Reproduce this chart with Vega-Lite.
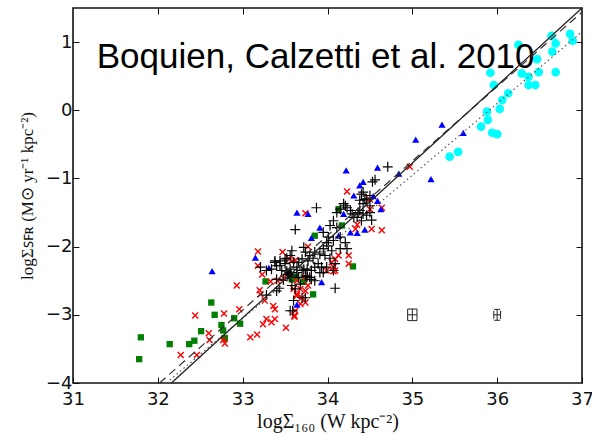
{
  "$schema": "https://vega.github.io/schema/vega-lite/v6.json",
  "width": 509,
  "height": 375,
  "autosize": {"type": "none"},
  "padding": {"left": 73, "top": 8, "right": 10, "bottom": 52},
  "background": "white",
  "config": {
    "view": {"stroke": "#111", "strokeWidth": 1.6},
    "axis": {
      "domain": false,
      "grid": false,
      "tickColor": "#111",
      "tickSize": -6,
      "tickWidth": 1,
      "labelFont": "DejaVu Sans",
      "labelFontSize": 18,
      "labelColor": "#111",
      "labelFlush": false,
      "titleFont": "Liberation Serif",
      "titleFontSize": 20,
      "titleFontWeight": "normal",
      "titleColor": "#111"
    }
  },
  "datasets": {
    "cyan": [
      {"x": 36.25, "y": 0.96}, {"x": 36.47, "y": 0.75}, {"x": 36.64, "y": 1.09}, {"x": 36.69, "y": 0.98},
      {"x": 36.65, "y": 0.86}, {"x": 36.86, "y": 1.12}, {"x": 36.89, "y": 1.02}, {"x": 36.69, "y": 0.56},
      {"x": 36.49, "y": 0.56}, {"x": 36.37, "y": 0.49}, {"x": 36.29, "y": 0.54}, {"x": 35.92, "y": 0.55},
      {"x": 35.96, "y": 0.37}, {"x": 36.37, "y": 0.37}, {"x": 36.45, "y": 0.37}, {"x": 36.13, "y": 0.25},
      {"x": 36.06, "y": 0.15}, {"x": 36.03, "y": 0.02}, {"x": 35.88, "y": -0.02}, {"x": 35.89, "y": -0.14},
      {"x": 35.81, "y": -0.24}, {"x": 35.94, "y": -0.33}, {"x": 36.0, "y": -0.35}, {"x": 35.54, "y": -0.61},
      {"x": 35.44, "y": -0.68}
    ],
    "blue": [
      {"x": 35.35, "y": -0.21}, {"x": 35.6, "y": -0.33}, {"x": 35.04, "y": -0.43}, {"x": 35.22, "y": -1.01},
      {"x": 34.59, "y": -0.84}, {"x": 34.22, "y": -0.88}, {"x": 34.84, "y": -0.93}, {"x": 34.42, "y": -1.05},
      {"x": 34.38, "y": -1.1}, {"x": 34.31, "y": -1.25}, {"x": 34.54, "y": -1.26}, {"x": 34.59, "y": -1.33},
      {"x": 34.63, "y": -1.45}, {"x": 33.64, "y": -1.5}, {"x": 33.77, "y": -1.52}, {"x": 34.19, "y": -1.52},
      {"x": 33.91, "y": -1.72}, {"x": 34.13, "y": -1.84}, {"x": 34.27, "y": -1.79}, {"x": 34.35, "y": -1.8},
      {"x": 34.44, "y": -1.75}, {"x": 33.81, "y": -1.87}, {"x": 33.93, "y": -2.52}, {"x": 33.64, "y": -2.85},
      {"x": 33.15, "y": -2.16}, {"x": 33.31, "y": -2.31}, {"x": 32.64, "y": -2.36}
    ],
    "green": [
      {"x": 31.8, "y": -3.33}, {"x": 31.78, "y": -3.65}, {"x": 32.14, "y": -3.43}, {"x": 32.37, "y": -3.43},
      {"x": 32.43, "y": -3.38}, {"x": 32.51, "y": -3.24}, {"x": 32.63, "y": -2.82}, {"x": 32.67, "y": -3.0},
      {"x": 32.75, "y": -3.15}, {"x": 32.77, "y": -3.23}, {"x": 32.79, "y": -3.34}, {"x": 32.9, "y": -3.05},
      {"x": 32.97, "y": -3.13}, {"x": 33.27, "y": -2.51}, {"x": 33.58, "y": -2.48}, {"x": 33.62, "y": -2.44},
      {"x": 34.13, "y": -1.45}, {"x": 34.17, "y": -1.69}, {"x": 33.85, "y": -1.84}, {"x": 34.3, "y": -2.29},
      {"x": 33.59, "y": -2.46}, {"x": 33.72, "y": -2.51}, {"x": 33.83, "y": -2.7}
    ],
    "red": [
      {"x": 32.44, "y": -3.01}, {"x": 32.6, "y": -3.27}, {"x": 32.61, "y": -3.37}, {"x": 32.27, "y": -3.59},
      {"x": 32.46, "y": -3.59}, {"x": 32.78, "y": -2.98}, {"x": 32.93, "y": -2.57}, {"x": 32.96, "y": -2.92},
      {"x": 32.77, "y": -3.37}, {"x": 32.79, "y": -3.42}, {"x": 33.09, "y": -3.33}, {"x": 33.17, "y": -3.29},
      {"x": 33.18, "y": -2.07}, {"x": 33.18, "y": -2.28}, {"x": 33.23, "y": -2.41}, {"x": 33.2, "y": -2.64},
      {"x": 33.21, "y": -2.7}, {"x": 33.26, "y": -2.79}, {"x": 33.28, "y": -3.06}, {"x": 33.24, "y": -3.14},
      {"x": 33.34, "y": -3.11}, {"x": 33.38, "y": -3.06}, {"x": 33.36, "y": -2.87}, {"x": 33.38, "y": -2.92},
      {"x": 33.33, "y": -2.51}, {"x": 33.51, "y": -3.19}, {"x": 33.61, "y": -3.01}, {"x": 33.62, "y": -2.94},
      {"x": 33.6, "y": -2.62}, {"x": 33.64, "y": -2.7}, {"x": 33.55, "y": -2.18}, {"x": 33.47, "y": -2.08},
      {"x": 33.41, "y": -2.5}, {"x": 33.74, "y": -1.51}, {"x": 34.5, "y": -1.45}, {"x": 34.64, "y": -1.43},
      {"x": 34.52, "y": -1.74}, {"x": 34.64, "y": -1.76}, {"x": 34.35, "y": -1.68}, {"x": 34.33, "y": -1.74},
      {"x": 34.13, "y": -2.13}, {"x": 34.09, "y": -2.18}, {"x": 34.05, "y": -2.23}, {"x": 34.07, "y": -2.3},
      {"x": 34.09, "y": -2.35}, {"x": 34.25, "y": -2.13}, {"x": 34.25, "y": -2.25}, {"x": 33.64, "y": -2.5},
      {"x": 33.77, "y": -2.57}, {"x": 33.68, "y": -2.62}, {"x": 33.74, "y": -2.65}, {"x": 33.64, "y": -2.72},
      {"x": 33.7, "y": -2.75}, {"x": 33.74, "y": -2.82}, {"x": 33.68, "y": -2.84}, {"x": 33.61, "y": -3.03},
      {"x": 33.58, "y": -2.21}, {"x": 34.23, "y": -1.19}, {"x": 34.5, "y": -1.31}, {"x": 34.97, "y": -0.83},
      {"x": 33.77, "y": -2.0}, {"x": 33.62, "y": -2.2}, {"x": 34.07, "y": -2.36}, {"x": 33.99, "y": -2.35},
      {"x": 33.74, "y": -2.45}, {"x": 33.48, "y": -2.46}
    ],
    "black": [
      {"x": 34.71, "y": -0.83}, {"x": 34.53, "y": -1.05}, {"x": 33.87, "y": -1.43}, {"x": 34.4, "y": -1.23},
      {"x": 34.44, "y": -1.31}, {"x": 34.5, "y": -1.25}, {"x": 34.11, "y": -1.5}, {"x": 34.15, "y": -1.45},
      {"x": 34.21, "y": -1.4}, {"x": 34.38, "y": -1.47}, {"x": 34.42, "y": -1.52}, {"x": 34.56, "y": -1.02},
      {"x": 33.62, "y": -1.75}, {"x": 34.19, "y": -1.37}, {"x": 34.23, "y": -1.43}, {"x": 34.27, "y": -1.47},
      {"x": 34.38, "y": -1.32}, {"x": 34.42, "y": -1.2}, {"x": 34.46, "y": -1.3}, {"x": 34.5, "y": -1.4},
      {"x": 34.42, "y": -1.37}, {"x": 34.36, "y": -1.5}, {"x": 34.29, "y": -1.52}, {"x": 34.31, "y": -1.57},
      {"x": 34.5, "y": -1.5}, {"x": 34.46, "y": -1.54}, {"x": 34.52, "y": -1.61}, {"x": 34.4, "y": -1.62},
      {"x": 34.35, "y": -1.57}, {"x": 34.07, "y": -1.62}, {"x": 34.03, "y": -1.69}, {"x": 34.11, "y": -1.72},
      {"x": 33.95, "y": -1.79}, {"x": 34.01, "y": -1.86}, {"x": 34.07, "y": -1.91}, {"x": 34.15, "y": -1.86},
      {"x": 34.21, "y": -1.94}, {"x": 34.23, "y": -2.03}, {"x": 34.15, "y": -2.03}, {"x": 33.99, "y": -1.94},
      {"x": 34.01, "y": -1.99}, {"x": 34.05, "y": -2.06}, {"x": 33.95, "y": -2.03}, {"x": 33.91, "y": -2.11},
      {"x": 33.97, "y": -2.13}, {"x": 34.03, "y": -2.17}, {"x": 33.72, "y": -2.01}, {"x": 33.74, "y": -2.08},
      {"x": 33.79, "y": -2.13}, {"x": 33.85, "y": -2.08}, {"x": 33.83, "y": -2.17}, {"x": 33.77, "y": -2.21},
      {"x": 33.7, "y": -2.18}, {"x": 33.66, "y": -2.23}, {"x": 33.58, "y": -2.06}, {"x": 33.56, "y": -2.13},
      {"x": 33.52, "y": -2.17}, {"x": 33.6, "y": -2.23}, {"x": 33.5, "y": -2.25}, {"x": 33.44, "y": -2.21},
      {"x": 33.4, "y": -2.28}, {"x": 33.38, "y": -2.21}, {"x": 33.89, "y": -2.25}, {"x": 33.93, "y": -2.3},
      {"x": 33.85, "y": -2.3}, {"x": 33.91, "y": -2.38}, {"x": 33.81, "y": -2.35}, {"x": 33.76, "y": -2.33},
      {"x": 33.7, "y": -2.35}, {"x": 33.64, "y": -2.3}, {"x": 33.56, "y": -2.33}, {"x": 33.54, "y": -2.4},
      {"x": 33.46, "y": -2.35}, {"x": 33.34, "y": -2.33}, {"x": 33.21, "y": -2.3}, {"x": 33.28, "y": -2.35},
      {"x": 33.76, "y": -2.44}, {"x": 33.81, "y": -2.48}, {"x": 33.66, "y": -2.45}, {"x": 33.56, "y": -2.45},
      {"x": 33.48, "y": -2.49}, {"x": 33.4, "y": -2.48}, {"x": 34.09, "y": -2.61}, {"x": 33.99, "y": -2.3},
      {"x": 34.07, "y": -2.35}, {"x": 33.95, "y": -2.38}, {"x": 34.09, "y": -2.25}, {"x": 33.72, "y": -2.33},
      {"x": 33.64, "y": -2.38}, {"x": 33.58, "y": -2.57}, {"x": 33.62, "y": -2.62}, {"x": 33.68, "y": -2.55},
      {"x": 33.74, "y": -2.43}, {"x": 33.79, "y": -2.45}, {"x": 33.85, "y": -2.5}, {"x": 33.6, "y": -2.79},
      {"x": 33.7, "y": -2.75}, {"x": 33.74, "y": -2.75}, {"x": 33.56, "y": -2.94}, {"x": 33.38, "y": -2.23},
      {"x": 33.44, "y": -2.28}, {"x": 33.5, "y": -2.18}, {"x": 33.28, "y": -2.71}, {"x": 33.43, "y": -2.61},
      {"x": 33.4, "y": -2.65}, {"x": 33.59, "y": -2.94}, {"x": 33.53, "y": -2.41}, {"x": 33.55, "y": -2.38},
      {"x": 33.52, "y": -2.36}, {"x": 33.57, "y": -2.42}
    ],
    "errbars": [
      {"x": 34.945, "x2": 35.055, "y": -3.0, "y2": -3.0},
      {"x": 35.0, "x2": 35.0, "y": -3.085, "y2": -2.915},
      {"x": 34.945, "x2": 34.945, "y": -3.085, "y2": -2.915},
      {"x": 35.055, "x2": 35.055, "y": -3.085, "y2": -2.915},
      {"x": 34.945, "x2": 35.055, "y": -3.085, "y2": -3.085},
      {"x": 34.945, "x2": 35.055, "y": -2.915, "y2": -2.915},
      {"x": 35.96, "x2": 36.04, "y": -3.0, "y2": -3.0},
      {"x": 36.0, "x2": 36.0, "y": -3.08, "y2": -2.92},
      {"x": 35.96, "x2": 35.96, "y": -3.06, "y2": -2.94},
      {"x": 36.04, "x2": 36.04, "y": -3.06, "y2": -2.94},
      {"x": 35.965, "x2": 36.035, "y": -3.08, "y2": -3.08},
      {"x": 35.965, "x2": 36.035, "y": -2.92, "y2": -2.92}
    ],
    "fits": [
      {"fit": "solid", "x": 32.16, "y": -4.0}, {"fit": "solid", "x": 37.0, "y": 1.5},
      {"fit": "dashed", "x": 32.02, "y": -4.0}, {"fit": "dashed", "x": 37.0, "y": 1.44},
      {"fit": "dotted", "x": 32.1, "y": -4.0}, {"fit": "dotted", "x": 37.0, "y": 1.15}
    ],
    "label": [
      {"text": "Boquien, Calzetti et al. 2010", "x": 31.28, "y": 0.62}
    ]
  },
  "layer": [
    {
      "encoding": {
        "x": {
          "field": "x", "type": "quantitative",
          "scale": {"domain": [31, 37], "nice": false, "zero": false},
          "axis": {"orient": "bottom", "values": [31, 32, 33, 34, 35, 36, 37], "format": "d", "labelPadding": 13, "titlePadding": 3},
          "title": "logΣ₁₆₀ (W  kpc⁻²)"
        },
        "y": {
          "field": "y", "type": "quantitative",
          "scale": {"domain": [-4, 1.5], "nice": false, "zero": false},
          "axis": {"orient": "left", "values": [-4, -3, -2, -1, 0, 1], "format": "d", "labelPadding": 7, "titlePadding": 9, "titleFontSize": 17},
          "title": "logΣꜱꜰʀ (M⊙ yr⁻¹ kpc⁻²)"
        }
      },
      "layer": [
        {
          "data": {"name": "cyan"},
          "mark": {"type": "point", "shape": "circle", "filled": true, "color": "#00ffff", "opacity": 1, "size": 75}
        },
        {
          "data": {"name": "green"},
          "mark": {"type": "point", "shape": "square", "filled": true, "color": "#007f00", "opacity": 1, "size": 40}
        },
        {
          "data": {"name": "red"},
          "mark": {"type": "point", "shape": "M-1,-1L1,1M-1,1L1,-1", "filled": false, "color": "#ff0000", "opacity": 1, "size": 36, "strokeWidth": 1.4}
        },
        {
          "data": {"name": "blue"},
          "mark": {"type": "point", "shape": "triangle-up", "filled": true, "color": "#0000ff", "opacity": 1, "size": 52}
        },
        {
          "data": {"name": "black"},
          "mark": {"type": "point", "shape": "M-1,0H1M0,-1V1", "filled": false, "color": "#000000", "opacity": 1, "size": 100, "strokeWidth": 1.2}
        },
        {
          "data": {"name": "errbars"},
          "mark": {"type": "rule", "color": "#222", "strokeWidth": 1},
          "encoding": {"x2": {"field": "x2"}, "y2": {"field": "y2"}}
        },
        {
          "data": {"name": "label"},
          "mark": {"type": "text", "align": "left", "baseline": "alphabetic", "font": "Liberation Sans", "fontSize": 35, "color": "#000"},
          "encoding": {"text": {"field": "text"}}
        }
      ]
    },
    {
      "data": {"name": "fits"},
      "encoding": {
        "x": {
          "field": "x", "type": "quantitative",
          "scale": {"domain": [31, 37], "nice": false, "zero": false},
          "axis": {"orient": "top", "values": [32, 33, 34, 35, 36], "labels": false, "title": null}
        },
        "y": {
          "field": "y", "type": "quantitative",
          "scale": {"domain": [-4, 1.5], "nice": false, "zero": false},
          "axis": {"orient": "right", "values": [-3, -2, -1, 0, 1], "labels": false, "title": null}
        }
      },
      "layer": [
        {
          "transform": [{"filter": "datum.fit === 'dotted'"}],
          "mark": {"type": "line", "color": "#555", "strokeWidth": 1.2, "strokeDash": [1.5, 3]}
        },
        {
          "transform": [{"filter": "datum.fit === 'dashed'"}],
          "mark": {"type": "line", "color": "#333", "strokeWidth": 1.2, "strokeDash": [8, 5]}
        },
        {
          "transform": [{"filter": "datum.fit === 'solid'"}],
          "mark": {"type": "line", "color": "#222", "strokeWidth": 1.3}
        }
      ]
    }
  ],
  "resolve": {"axis": {"x": "independent", "y": "independent"}}
}
